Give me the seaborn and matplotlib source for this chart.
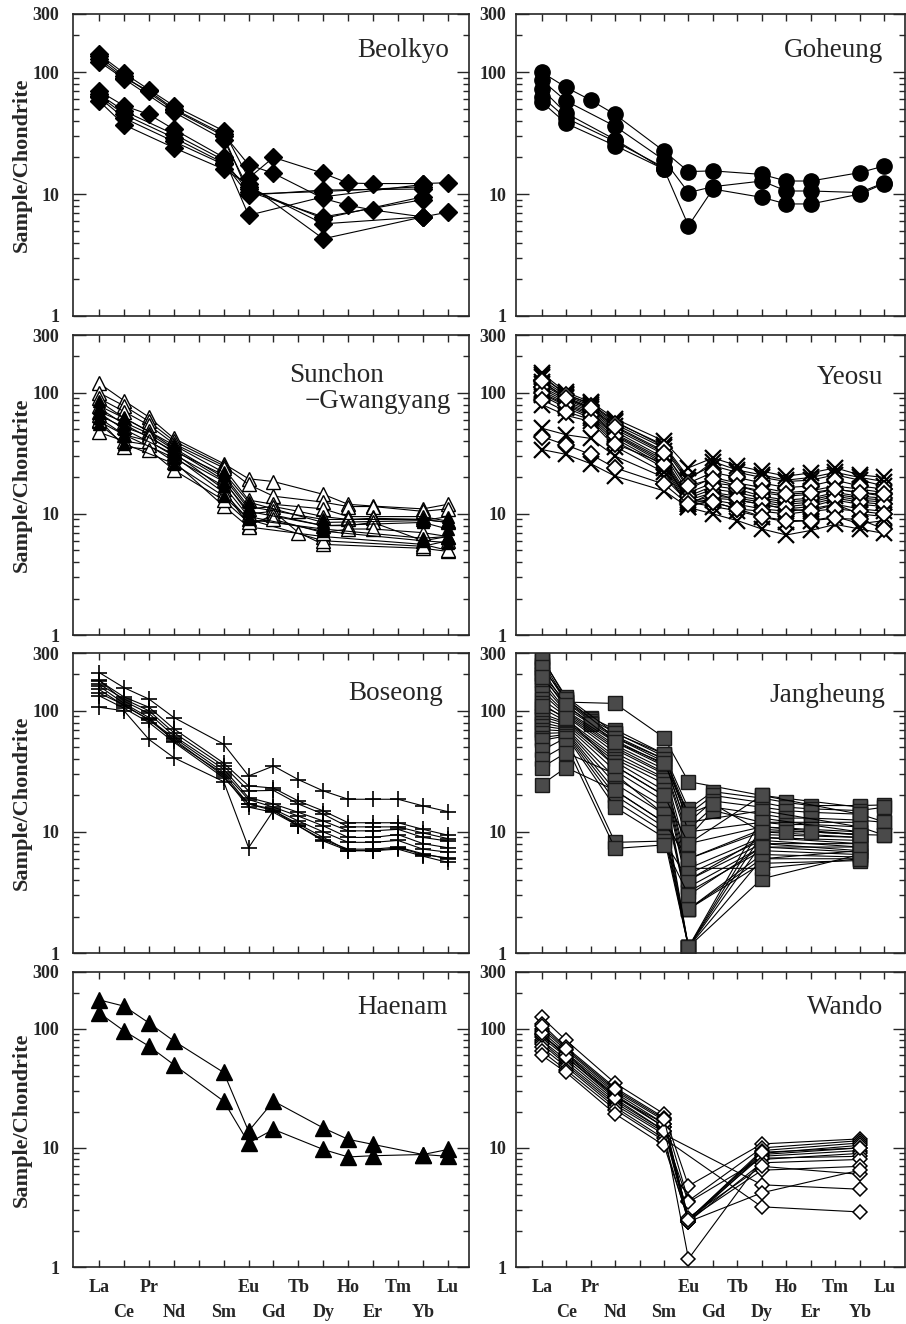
import numpy as np
import pandas as pd
import seaborn as sns
import matplotlib.pyplot as plt
from matplotlib.ticker import FixedLocator, LogLocator, NullFormatter

REE = ['La', 'Ce', 'Pr', 'Nd', 'Pm', 'Sm', 'Eu', 'Gd', 'Tb', 'Dy', 'Ho', 'Er', 'Tm', 'Yb', 'Lu']
_ = None

# chondrite-normalised values, one row per sample, columns La..Lu (Pm never measured)
beolkyo = [
    [140, 98, 72, 53, _, 33, 13.5, 20, _, 14.8, 12.3, 12.2, _, 12.2, 12.4],
    [128, 90, 70, 50, _, 31, 17.4, 14.8, _, 9.2, 8.1, 7.4, _, 6.5, 7.1],
    [135, 93, _, 49, _, 30, 10.0, _, _, 10.5, _, _, _, 11.5, _],
    [122, 88, _, 47, _, 28, 11.0, _, _, 6.3, _, _, _, 9.5, _],
    [70, 53, 45, 34, _, 20, 6.7, _, _, 9.5, _, _, _, 12.0, _],
    [66, 48, _, 31, _, 19, 10.5, _, _, 6.5, _, _, _, 9.0, _],
    [62, 42, _, 27, _, 17.5, 11.5, _, _, 5.7, _, _, _, 6.5, _],
    [58, 37, _, 24, _, 16, 12.0, _, _, 4.3, _, _, _, 6.5, _],
    [64, 45, _, 29, _, 18, 9.8, _, _, 10.8, _, _, _, 11.0, _],
]

goheung = [
    [100, 75, 59, 45, _, 22.5, 15.3, 15.5, _, 14.5, 12.8, 12.8, _, 15.0, 17.0],
    [86, 58, _, 36, _, 19, 10.3, 11.5, _, 12.8, 10.6, 10.6, _, 10.3, 12.4],
    [73, 46, _, 28, _, 16, 5.5, 11.0, _, 9.4, 8.3, 8.3, _, 10.0, 12.2],
    [63, 42, _, 27, _, 16.5, _, _, _, _, _, _, _, _, _],
    [57, 38, _, 25, _, 16, _, _, _, _, _, _, _, _, _],
]

sunchon_open = [
    [120, 86, 63, 42, _, 26, 19.5, 18.5, _, 14.5, 12.0, 11.6, _, 11.0, 12.0],
    [100, 78, 58, 40, _, 25, 17.5, 14.0, _, 12.5, 11.5, 11.5, _, 10.5, 11.0],
    [90, 70, 54, 38, _, 24, 13.0, 12.0, _, 11.0, 9.5, 9.5, _, 9.5, 8.7],
    [78, 62, 48, 35, _, 20, 11.0, 11.5, 10.5, 9.5, 9.0, 9.2, _, 9.0, 8.5],
    [70, 57, 46, 34, _, 19, 10.0, 10.5, 7.0, 5.6, _, _, _, 5.2, 4.9],
    [65, 52, 44, 32, _, 16, 8.0, 9.8, _, 8.0, 8.0, 8.5, _, 6.0, 6.5],
    [47, 40, 37, 27, _, 11.6, 7.8, _, _, 6.5, _, _, _, 5.6, 5.0],
    [58, 45, 40, 30, _, 15, 9.0, _, _, 6.0, _, _, _, 5.4, 6.0],
    [60, 36, 34, 23, _, 13, 8.5, 9.0, _, 7.0, 7.5, 7.5, _, 7.0, 6.5],
]
sunchon_filled = [
    [75, 55, _, 33, _, 21, 11.5, _, _, 9.0, _, _, _, 9.0, 8.5],
    [68, 50, _, 31, _, 18.5, 10.5, _, _, 8.0, _, _, _, 8.5, 7.5],
    [62, 45, _, 29, _, 17, 9.5, _, _, 7.2, _, _, _, 6.0, 5.8],
    [55, 38, _, 26, _, 14, 9.0, _, _, 7.5, _, _, _, 6.3, 6.5],
    [85, 62, _, 37, _, 22, 12.5, _, _, 8.5, _, _, _, 8.8, 9.5],
]

yeosu_cross = [
    [145, 101, 84, 61, _, 40, 24, 29, 25, 22.5, 20.5, 21.8, 24, 21, 20],
    [140, 96, 82, 58, _, 36, 19, 27, 23, 21, 19, 20, 22, 20, 18.5],
    [135, 98, 80, 57, _, 37, 20, 25, 22, 20, 18.5, 19, 21, 19, 17],
    [122, 92, 76, 53, _, 33, 16, 20, 18, 16.5, 15, 15.5, 17, 16, 15],
    [118, 90, 74, 50, _, 31, 15, 18, 17, 15, 14, 14.5, 16, 15, 14],
    [108, 85, 70, 46, _, 28, 13.5, 16, 15, 13.5, 12.5, 13, 14.5, 13.5, 13],
    [104, 82, 68, 45, _, 27, 13, 15, 14, 13, 12, 12.5, 14, 13, 12.5],
    [98, 78, 64, 42, _, 25, 12, 13.5, 13, 12, 11, 11.5, 13, 12, 11.5],
    [95, 75, 62, 40, _, 24, 11.5, 13, 12, 11, 10.5, 11, 12, 11, 10.5],
    [80, 65, 58, 36, _, 22, 12, 15, 13, 12, 11, 10.5, 12, 10, 9.5],
    [51, 45, 42, 30, _, 20, 12.5, 11.5, 10.6, 9.4, 8.6, 8.8, 9.5, 8.3, 8.8],
    [34, 31, 26, 20.5, _, 15.5, 11.3, 10, 8.8, 7.5, 6.7, 7.3, 8.2, 7.5, 6.9],
]
yeosu_diamond = [
    [128, 95, 78, 55, _, 35, 18, 22, 20, 18, 16.5, 17, 19, 17, 16],
    [112, 88, 72, 48, _, 29, 14, 17, 16, 14, 13, 13.5, 15, 14, 13.5],
    [100, 80, 66, 44, _, 26, 12.5, 14, 13.5, 12.5, 11.5, 12, 13.5, 12.5, 12],
    [88, 70, 60, 38, _, 26, 13, 12.5, 11, 10.5, 10, 10.5, 11, 10.5, 10],
    [125, 90, 75, 52, _, 32, 17, 19.5, 17, 15.5, 14.5, 15, 16, 15, 14.5],
    [43.5, 37, 31, 24, _, 17.6, 12, 12.5, 11, 9.5, 8.8, 8.8, 9.2, 9.0, 7.5],
]

boseong = [
    [207, 155, 125, 88, _, 53, 29, 35, 27, 21.8, 18.6, 18.6, 18.6, 16.4, 14.7],
    [177, 130, 107, 71, _, 37, 24, 23, 18, 14.9, 11.9, 11.9, 11.9, 10.5, 9.4],
    [166, 125, 100, 66, _, 35, 21.8, 22, 17, 14, 11.0, 11.0, 11.0, 9.8, 8.8],
    [180, 120, 95, 62, _, 33, 19.2, 17, 14.5, 12.3, 10.2, 10.2, 10.5, 9.0, 8.4],
    [150, 110, 85, 60, _, 31, 18.5, 16, 13.5, 11.2, 9.0, 9.0, 9.5, 8.0, 7.4],
    [160, 115, 88, 56, _, 30, 17, 15.4, 12.3, 10.0, 8.2, 8.2, 8.5, 7.2, 6.8],
    [133, 105, 80, 55, _, 28, 17, 15, 11.6, 9.0, 7.0, 7.0, 7.4, 6.5, 6.1],
    [140, 112, 84, 58, _, 29, 16, 14.5, 11.2, 8.4, 7.0, 7.0, 7.2, 6.3, 5.6],
    [107, 100, 58, 41, _, 26, 7.4, 15, 11.2, 8.6, 7.2, 7.2, 7.5, 6.6, 6.0],
]

jangheung = [
    [200, 118, _, 115, _, 60, 26, _, _, 20, _, _, _, 16, _],
    [280, 125, 88, 70, _, 44, 15.5, 21.5, _, 19, 17.5, 16.5, _, 16.5, 16.7],
    [260, 120, 85, 66, _, 42, 14, 20, _, 17.5, 16, 15.5, _, 15, 16],
    [240, 118, 82, 62, _, 40, 12, 18, _, 16, 15, 14.5, _, 14, 12.1],
    [220, 110, 80, 60, _, 38, 10.5, 16, _, 14, 13, 13, _, 12.5, 12],
    [200, 105, 78, 57, _, 36, 9, 15, _, 12, 11.5, 11.5, _, 11, 9.4],
    [180, 100, _, 55, _, 35, 8, _, _, 11, _, _, _, 10, _],
    [165, 98, _, 52, _, 33, 6, _, _, 10, _, _, _, 9, _],
    [150, 95, _, 50, _, 31, 5, _, _, 9, _, _, _, 8.5, _],
    [140, 92, _, 48, _, 30, 4.5, _, _, 8.5, _, _, _, 7.5, _],
    [125, 90, _, 45, _, 28, 4, _, _, 8, _, _, _, 7, _],
    [115, 85, _, 42, _, 27, 3.5, _, _, 7.5, _, _, _, 6.8, _],
    [105, 82, _, 40, _, 25, 3.2, _, _, 7, _, _, _, 6.5, _],
    [95, 80, _, 38, _, 22, 2.3, _, _, 6.5, _, _, _, 6.2, _],
    [90, 78, _, 35, _, 20, 2.3, _, _, 6, _, _, _, 6, _],
    [85, 75, _, 32, _, 18, 2.3, _, _, 5.5, _, _, _, 5.8, _],
    [80, 72, _, 28, _, 16, 1.12, _, _, 13, _, _, _, 10, _],
    [75, 70, _, 25, _, 14, 1.12, _, _, 11, _, _, _, 9.5, _],
    [70, 68, _, 22, _, 12, 1.12, _, _, 9.5, _, _, _, 9, _],
    [65, 66, _, 20, _, 11, 1.12, _, _, 8, _, _, _, 8, _],
    [60, 64, _, 18, _, 10, 1.12, _, _, 6, _, _, _, 7, _],
    [57, 62, _, 16, _, 9, 1.12, _, _, 4.1, _, _, _, 6.5, _],
    [47, 60, _, 8.2, _, 8.4, 4, _, _, 9, _, _, _, 8, _],
    [40, 52, _, 7.3, _, 7.8, 3, _, _, 7.5, _, _, _, 7.5, _],
    [34, 45, _, 30, _, 14, 5, _, _, 5, _, _, _, 6, _],
    [24.6, 34, _, 22, _, 12, 6, _, _, 10.5, _, _, _, 9.5, _],
    [270, 130, _, 65, _, 44, 12, _, _, 15, _, _, _, 11, _],
    [230, 125, _, 60, _, 40, 10, _, _, 12, _, _, _, 12, _],
    [190, 112, _, 55, _, 37, 14, 17, _, 10, 10, 10, _, 9.5, 9.4],
    [110, 88, _, 35, _, 20, 8, _, _, 20, _, _, _, 14, _],
]

haenam = [
    [175, 155, 112, 79, _, 43, 13.8, 24.7, _, 14.7, 11.8, 10.7, _, 8.8, 9.7],
    [136, 96, 71.5, 50, _, 24.7, 11, 14.3, _, 9.7, 8.4, 8.6, _, 8.8, 8.5],
]

wando = [
    [125, 80, _, 35, _, 19.3, 4.8, _, _, 10.8, _, _, _, 11.9, _],
    [110, 70, _, 32, _, 18, 3.6, _, _, 10, _, _, _, 11.5, _],
    [100, 66, _, 30, _, 17, 2.5, _, _, 9.5, _, _, _, 11, _],
    [95, 63, _, 29, _, 16, 2.5, _, _, 9, _, _, _, 10.5, _],
    [90, 60, _, 28, _, 15, 2.4, _, _, 8.8, _, _, _, 10, _],
    [85, 58, _, 27, _, 15, 2.5, _, _, 8.5, _, _, _, 9.5, _],
    [80, 55, _, 25, _, 14, 1.17, _, _, 8, _, _, _, 9, _],
    [78, 52, _, 24, _, 13.5, 3.5, _, _, 8.2, _, _, _, 8.5, _],
    [75, 50, _, 23, _, 13, _, _, _, 4.9, _, _, _, 4.5, _],
    [70, 48, _, 22, _, 12, _, _, _, 3.2, _, _, _, 2.9, _],
    [65, 45, _, 21, _, 11.5, 2.4, _, _, 7.5, _, _, _, 8, _],
    [60, 43, _, 19.3, _, 10.5, 2.5, _, _, 6.5, _, _, _, 7, _],
    [88, 62, _, 27, _, 16, 2.6, _, _, 7, _, _, _, 6, _],
    [92, 58, _, 26, _, 14, 2.4, _, _, 4.2, _, _, _, 6.5, _],
    [105, 68, _, 31, _, 17.5, 2.5, _, _, 9.2, _, _, _, 10, _],
]


def to_long(samples):
    rows = [(i, j, v) for i, s in enumerate(samples) for j, v in enumerate(s) if v is not None]
    return pd.DataFrame(rows, columns=['sample', 'pos', 'value'])


def draw(ax, samples, marker, ms, face, edge='k', mew=1.0):
    sns.lineplot(data=to_long(samples), x='pos', y='value', units='sample', estimator=None,
                 sort=True, color='k', linewidth=0.8, marker=marker, markersize=ms,
                 markerfacecolor=face, markeredgecolor=edge, markeredgewidth=mew,
                 legend=False, ax=ax)


sns.set_style('ticks')
plt.rcParams['font.family'] = ['Liberation Serif', 'DejaVu Serif']

fig = plt.figure(figsize=(9.06, 13.24), dpi=100)
W, H = 906, 1324
cols = [(73, 469), (516, 905)]
rows = [(14, 316), (335, 635), (653, 953), (972, 1267)]

axes = {}
for r, (top, bot) in enumerate(rows):
    for c, (left, right) in enumerate(cols):
        ax = fig.add_axes([left / W, 1 - bot / H, (right - left) / W, (bot - top) / H])
        axes[r, c] = ax

panels = [
    ((0, 0), 'Beolkyo', 0.95, 0.88),
    ((0, 1), 'Goheung', 0.945, 0.88),
    ((1, 1), 'Yeosu', 0.945, 0.86),
    ((2, 0), 'Boseong', 0.935, 0.865),
    ((2, 1), 'Jangheung', 0.95, 0.86),
    ((3, 0), 'Haenam', 0.945, 0.88),
    ((3, 1), 'Wando', 0.945, 0.88),
]

draw(axes[0, 0], beolkyo, 'D', 9, 'k')
draw(axes[0, 1], goheung, 'o', 11, 'k')
draw(axes[1, 0], sunchon_open, '^', 9.5, 'w')
draw(axes[1, 0], sunchon_filled, '^', 8.5, 'k')
draw(axes[1, 1], yeosu_cross, 'x', 11, 'k', mew=1.6)
draw(axes[1, 1], yeosu_diamond, 'D', 8.5, 'w', mew=1.3)
draw(axes[2, 0], boseong, '+', 12, 'k', mew=1.2)
draw(axes[2, 1], jangheung, 's', 9.5, '#4a4a4a', edge='#1a1a1a')
draw(axes[3, 0], haenam, '^', 11, 'k')
draw(axes[3, 1], wando, 'D', 7.5, 'w', mew=1.1)

xlabels = [e if i % 2 == 0 else '\n' + e for i, e in enumerate(REE)]
xlabels[4] = ''

for (r, c), ax in axes.items():
    ax.set_yscale('log')
    ax.set_ylim(1, 300)
    ax.set_xlim(-1.05, 14.85)
    ax.yaxis.set_major_locator(FixedLocator([1, 10, 100, 300]))
    ax.set_yticklabels(['1', '10', '100', '300'], fontweight='bold', fontsize=13)
    ax.yaxis.set_minor_locator(LogLocator(base=10, subs=np.arange(2, 10)))
    ax.yaxis.set_minor_formatter(NullFormatter())
    ax.set_xticks(range(15))
    ax.tick_params(axis='both', which='both', direction='in', top=True, right=True, width=1)
    ax.tick_params(axis='y', which='major', length=9, pad=10 if c == 0 else 7)
    ax.tick_params(axis='y', which='minor', length=4.5)
    ax.tick_params(axis='x', which='major', length=5)
    if r == 3:
        ax.set_xticklabels(xlabels, fontweight='bold', fontsize=13, linespacing=1.55)
        ax.tick_params(axis='x', pad=9)
    else:
        ax.set_xticklabels([])
    ax.set_xlabel('')
    if c == 0:
        ax.set_ylabel('Sample/Chondrite', fontweight='bold', fontsize=16)
        ax.yaxis.set_label_coords(-0.105, 0.5)
    else:
        ax.set_ylabel('')
    for sp in ax.spines.values():
        sp.set_linewidth(1.2)

for (rc, name, tx, ty) in panels:
    axes[rc].text(tx, ty, name, transform=axes[rc].transAxes, ha='right', va='center',
                  fontsize=19.5)

axes[1, 0].text(0.545, 0.865, 'Sunchon', transform=axes[1, 0].transAxes, ha='left',
                va='center', fontsize=19.5)
axes[1, 0].text(0.955, 0.78, '\u2212Gwangyang', transform=axes[1, 0].transAxes, ha='right',
                va='center', fontsize=19.5)

fig.savefig('out.png', dpi=100)
